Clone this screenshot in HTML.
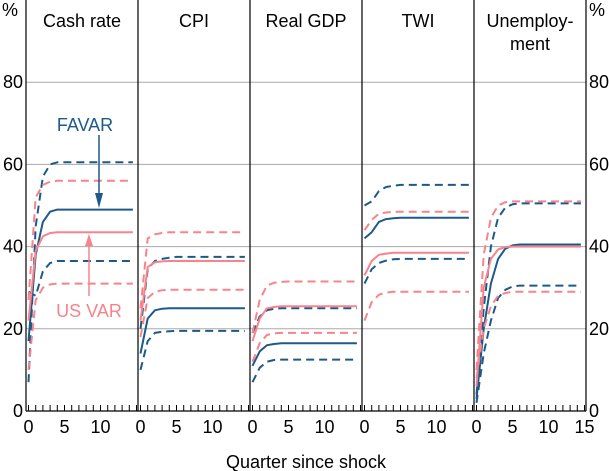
<!DOCTYPE html>
<html><head><meta charset="utf-8"><style>
body{margin:0;background:#fff}
svg{display:block;font-family:"Liberation Sans",Arial,sans-serif}
</style></head><body>
<svg id="c" width="609" height="471" viewBox="0 0 609 471"></svg>
<script>
const panelTitles=[["Cash rate"],["CPI"],["Real GDP"],["TWI"],["Unemploy-","ment"]];
const yTicks=[0,20,40,60,80];
const xTickLabels=[0,5,10];
const quarters=[0,1,2,3,4,5,6,7,8,9,10,11,12,13,14];
// series per panel: [favarUpper, favarMid, favarLower, usUpper, usMid, usLower]
const cashFavarUpper=[7,45,57,60,60.5,60.5,60.5,60.5,60.5,60.5,60.5,60.5,60.5,60.5,60.5];
const cashFavarMid=[17,38,46,48.5,49,49,49,49,49,49,49,49,49,49,49];
const cashFavarLower=[29,28,34,36,36.5,36.5,36.5,36.5,36.5,36.5,36.5,36.5,36.5,36.5,36.5];
const cashUsUpper=[27,52,55,55.8,56,56,56,56,56,56,56,56,56,56,56];
const cashUsMid=[22,39,42.5,43.3,43.5,43.5,43.5,43.5,43.5,43.5,43.5,43.5,43.5,43.5,43.5];
const cashUsLower=[10,27,30,30.8,31,31,31,31,31,31,31,31,31,31,31];
const cpiFavarUpper=[20,34.5,36.5,37,37.3,37.5,37.5,37.5,37.5,37.5,37.5,37.5,37.5,37.5,37.5];
const cpiFavarMid=[14,22.5,24.5,24.9,25,25,25,25,25,25,25,25,25,25,25];
const cpiFavarLower=[10,17,19,19.3,19.4,19.5,19.5,19.5,19.5,19.5,19.5,19.5,19.5,19.5,19.5];
const cpiUsUpper=[25,42,43,43.3,43.5,43.5,43.5,43.5,43.5,43.5,43.5,43.5,43.5,43.5,43.5];
const cpiUsMid=[22,35,36.2,36.4,36.5,36.5,36.5,36.5,36.5,36.5,36.5,36.5,36.5,36.5,36.5];
const cpiUsLower=[18,27.5,29,29.4,29.5,29.5,29.5,29.5,29.5,29.5,29.5,29.5,29.5,29.5,29.5];
const gdpFavarUpper=[19,23,24.5,24.9,25,25,25,25,25,25,25,25,25,25,25];
const gdpFavarMid=[11,14.5,16,16.3,16.5,16.5,16.5,16.5,16.5,16.5,16.5,16.5,16.5,16.5,16.5];
const gdpFavarLower=[7,10.5,12,12.4,12.5,12.5,12.5,12.5,12.5,12.5,12.5,12.5,12.5,12.5,12.5];
const gdpUsUpper=[19,27,30.5,31.2,31.4,31.5,31.5,31.5,31.5,31.5,31.5,31.5,31.5,31.5,31.5];
const gdpUsMid=[17,22.5,25,25.3,25.5,25.5,25.5,25.5,25.5,25.5,25.5,25.5,25.5,25.5,25.5];
const gdpUsLower=[12,16.5,18.5,18.9,19,19,19,19,19,19,19,19,19,19,19];
const twiFavarUpper=[50,51,53.5,54.5,54.8,55,55,55,55,55,55,55,55,55,55];
const twiFavarMid=[42,43.5,46,46.7,46.9,47,47,47,47,47,47,47,47,47,47];
const twiFavarLower=[31,34.5,36,36.6,36.9,37,37,37,37,37,37,37,37,37,37];
const twiUsUpper=[44,46.5,48,48.3,48.5,48.5,48.5,48.5,48.5,48.5,48.5,48.5,48.5,48.5,48.5];
const twiUsMid=[33,36.5,38,38.3,38.5,38.5,38.5,38.5,38.5,38.5,38.5,38.5,38.5,38.5,38.5];
const twiUsLower=[22,26.5,28.3,28.8,29,29,29,29,29,29,29,29,29,29,29];
const unFavarUpper=[4,25,40,47,49.5,50.3,50.5,50.5,50.5,50.5,50.5,50.5,50.5,50.5,50.5];
const unFavarMid=[3,20,31,37,39.5,40.3,40.5,40.5,40.5,40.5,40.5,40.5,40.5,40.5,40.5];
const unFavarLower=[2,14,22,27.5,29.5,30.3,30.5,30.5,30.5,30.5,30.5,30.5,30.5,30.5,30.5];
const unUsUpper=[10,38,47,50,50.8,51,51,51,51,51,51,51,51,51,51];
const unUsMid=[6,30,37,39.3,39.9,40,40,40,40,40,40,40,40,40,40];
const unUsLower=[8,20,25.5,28,28.7,29,29,29,29,29,29,29,29,29,29];
const panelSeries=[
 [cashFavarUpper,cashFavarMid,cashFavarLower,cashUsUpper,cashUsMid,cashUsLower],
 [cpiFavarUpper,cpiFavarMid,cpiFavarLower,cpiUsUpper,cpiUsMid,cpiUsLower],
 [gdpFavarUpper,gdpFavarMid,gdpFavarLower,gdpUsUpper,gdpUsMid,gdpUsLower],
 [twiFavarUpper,twiFavarMid,twiFavarLower,twiUsUpper,twiUsMid,twiUsLower],
 [unFavarUpper,unFavarMid,unFavarLower,unUsUpper,unUsMid,unUsLower]];
const seriesNames=["favar-upper","favar-mid","favar-lower","us-var-upper","us-var-mid","us-var-lower"];

const NS="http://www.w3.org/2000/svg";
const svg=document.getElementById('c');
const L=26,R=586,T=0,B=411,PW=(R-L)/5,U=7.2,FS=18;
function y(v){return B-v*(B-T)/100;}
function x(p,q){return L+p*PW+2.5+q*U;}
function mk(tag,at,parent){const e=document.createElementNS(NS,tag);for(const k in at)e.setAttribute(k,at[k]);(parent||svg).appendChild(e);return e;}

const grid=mk('g',{});


yTicks.forEach(v=>{if(v>0){mk('line',{x1:L,x2:R,y1:y(v),y2:y(v),stroke:'#aaa','stroke-width':1},grid);}});

for(let p=0;p<5;p++){
  const g=mk('g',{});
  
  
  panelTitles[p].forEach((t,i)=>{
    const tx=mk('text',{x:L+p*PW+PW/2,y:27+i*23,'text-anchor':'middle','font-size':FS,fill:'#000'},g);
    tx.textContent=t;
    
    
  });
  panelSeries[p].forEach((s,i)=>{
    const pts=s.map((v,k)=>x(p,quarters[k]).toFixed(1)+','+y(v).toFixed(1));
    pts.push(x(p,quarters[quarters.length-1]+0.5).toFixed(1)+','+y(s[s.length-1]).toFixed(1));
    const fav=i<3, dashed=(i%3)!==1;
    const pl=mk('polyline',{points:pts.join(' '),fill:'none',stroke:fav?'#1d5a8a':'#f7838b','stroke-width':2,'stroke-dasharray':dashed?'8,5':'none','stroke-linejoin':'round'},g);
    
    
  });
  for(let q=0;q<=15;q++){mk('line',{x1:x(p,q),x2:x(p,q),y1:B,y2:B-6,stroke:'#000','stroke-width':1},g);}
  const labs=p===4?xTickLabels.concat([15]):xTickLabels;
  labs.forEach(v=>{
    const t=mk('text',{x:x(p,v),y:B+22,'text-anchor':'middle','font-size':FS},g);
    t.textContent=v;
    
    
  });
}
for(let p=0;p<=5;p++){mk('line',{x1:L+p*PW,x2:L+p*PW,y1:0,y2:B,stroke:'#000','stroke-width':1.2});}
mk('line',{x1:L,x2:R,y1:B,y2:B,stroke:'#000','stroke-width':1.2});
yTicks.forEach(v=>{
  const a=mk('text',{x:L-3,y:y(v)+6,'text-anchor':'end','font-size':FS});a.textContent=v;
  
  
  const b=mk('text',{x:R+3,y:y(v)+6,'text-anchor':'start','font-size':FS});b.textContent=v;
  
  
});
const u1=mk('text',{x:2,y:16,'font-size':FS});u1.textContent='%';


const u2=mk('text',{x:589,y:16,'font-size':FS});u2.textContent='%';


const xt=mk('text',{x:306,y:468,'text-anchor':'middle','font-size':FS});xt.textContent='Quarter since shock';


// annotations
const fa=mk('text',{x:85,y:131,'text-anchor':'middle','font-size':FS,fill:'#1d5a8a'});fa.textContent='FAVAR';


mk('line',{x1:99,x2:99,y1:135,y2:193,stroke:'#1d5a8a','stroke-width':1.5});
mk('polygon',{points:'95,193 103,193 99,208',fill:'#1d5a8a'});
const ua=mk('text',{x:89,y:317,'text-anchor':'middle','font-size':FS,fill:'#f7838b'});ua.textContent='US VAR';


mk('line',{x1:89,x2:89,y1:296,y2:246,stroke:'#f7838b','stroke-width':1.5});
mk('polygon',{points:'85,246 93,246 89,234',fill:'#f7838b'});
</script>
</body></html>
